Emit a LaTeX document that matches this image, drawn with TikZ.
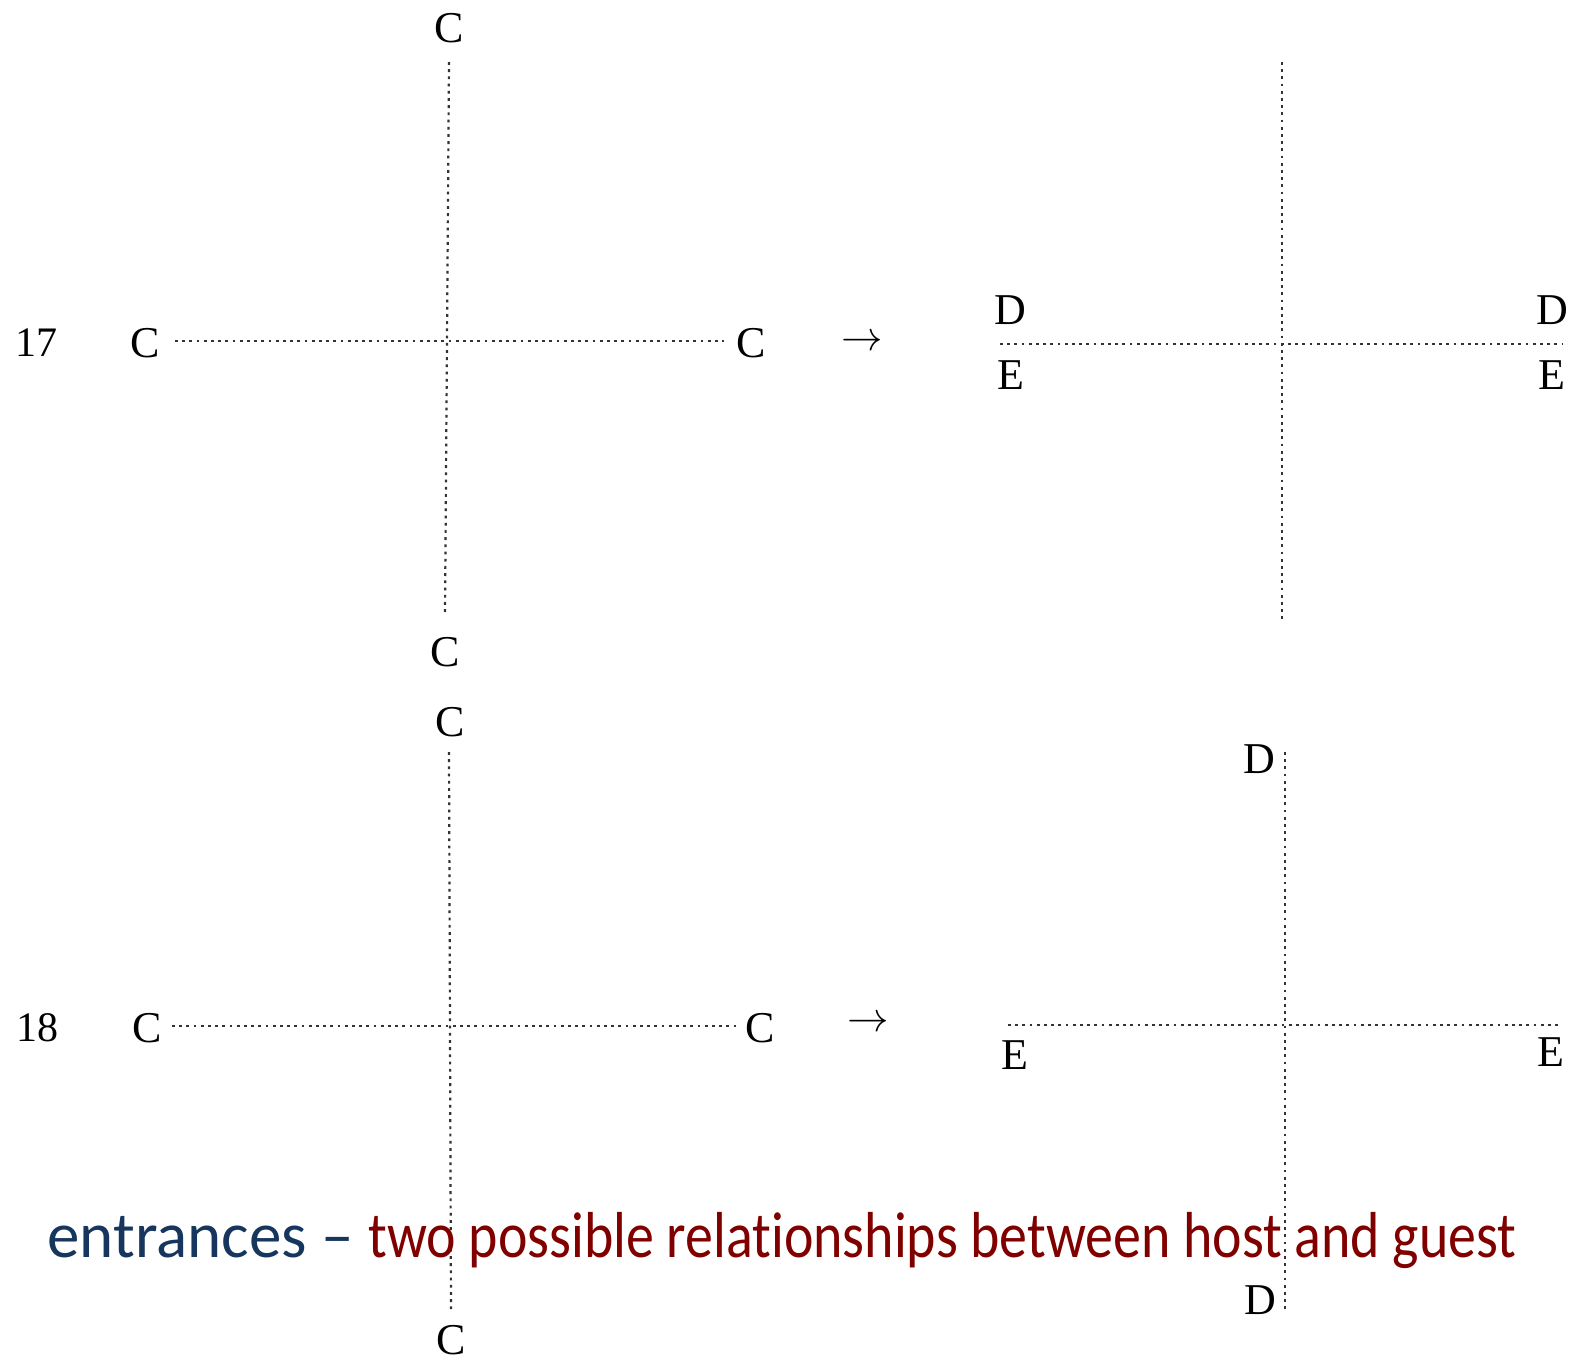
\documentclass[tikz,border=0pt]{standalone}
\usepackage{fontspec}
\usepackage{xcolor}
\usepackage{tikz}
\usetikzlibrary{positioning}
\setmainfont{Liberation Serif}
\newfontfamily\capfont{Carlito}[Ligatures={TeX,NoCommon}]
\newfontfamily\capfontn{Carlito}[FakeStretch=0.86, Ligatures={TeX,NoCommon}]
\definecolor{capnavy}{HTML}{17365D}
\definecolor{capred}{HTML}{800000}

\begin{document}
\begin{tikzpicture}[
  x=0.5pt, y=-0.5pt,
  lbl/.style={inner sep=1pt, font=\fontsize{22}{24}\selectfont},
  num/.style={inner sep=1pt, font=\fontsize{21}{23}\selectfont},
  dotline/.style={line width=1.1pt, black!80, dash pattern=on 1.4pt off 2.2pt},
  caption/.style={anchor=base west, inner sep=0pt, font=\capfont\fontsize{32.5}{35}\selectfont}
]
\useasboundingbox (0,0) rectangle (1572,1362);

% Figure 17, left: four entrances C
\node[num] (n17) at (36,343) {17};
\node[lbl] (c17t) at (449,28) {C};
\node[lbl] (c17b) at (445,652) {C};
\node[lbl] (c17l) at (145,343) {C};
\node[lbl] (c17r) at (751,343) {C};
\draw[dotline] (c17t.south |- 0,62) -- (c17b.north |- 0,615);
\draw[dotline] (175,341) -- (724,341);
\node[lbl] (a17) at (862,343) {$\rightarrow$};

% Figure 17, right: D above, E below
\coordinate (v17t) at (1282,62);
\coordinate (v17b) at (1282,622);
\coordinate (h17l) at (1000,344);
\coordinate (h17r) at (1562,344);
\draw[dotline] (v17t) -- (v17b);
\draw[dotline] (h17l) -- (h17r);
\node[lbl] (d17l) at (1010,310) {D};
\node[lbl] (e17l) at (1011,375) {E};
\node[lbl] (d17r) at (1552,310) {D};
\node[lbl] (e17r) at (1552,375) {E};

% Figure 18, left: four entrances C
\node[num] (n18) at (38,1028) {18};
\node[lbl] (c18t) at (450,722) {C};
\node[lbl] (c18b) at (451,1340) {C};
\node[lbl] (c18l) at (147,1028) {C};
\node[lbl] (c18r) at (760,1028) {C};
\draw[dotline] (449,752) -- (451,1310);
\draw[dotline] (172,1026) -- (736,1026);
\node[lbl] (a18) at (868,1024) {$\rightarrow$};

% Figure 18, right: D on the vertical, E on the horizontal
\coordinate (v18t) at (1285,752);
\coordinate (v18b) at (1285,1312);
\coordinate (h18l) at (1008,1025);
\coordinate (h18r) at (1562,1025);
\draw[dotline] (v18t) -- (v18b);
\draw[dotline] (h18l) -- (h18r);
\node[lbl] (d18t) at (1259,759) {D};
\node[lbl] (d18b) at (1260,1300) {D};
\node[lbl] (e18l) at (1015,1055) {E};
\node[lbl] (e18r) at (1551,1052) {E};

% Caption
\node[caption] (cap) at (47,1257) {\textcolor{capnavy}{entrances –} \textcolor{capred}{\capfontn two possible relationships between host and guest}};

\end{tikzpicture}
\end{document}
